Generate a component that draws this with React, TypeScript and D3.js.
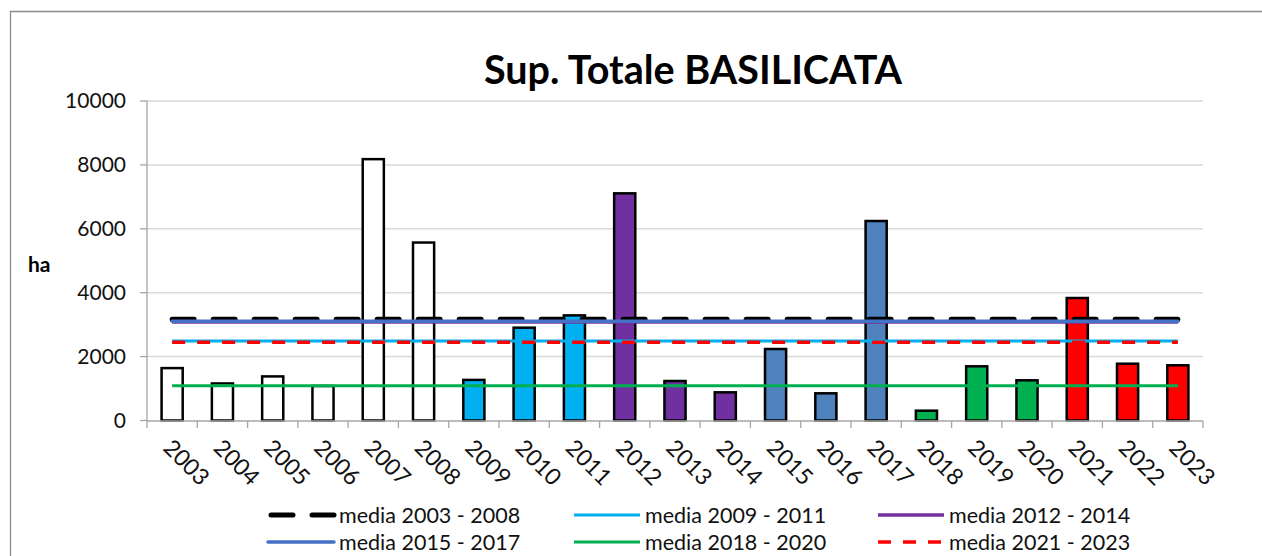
import React from "react";
import * as d3 from "d3";

// values (ha)
const years = [
  "2003", "2004", "2005", "2006", "2007", "2008", "2009", "2010", "2011", "2012", "2013",
  "2014", "2015", "2016", "2017", "2018", "2019", "2020", "2021", "2022", "2023",
];
const surface = [
  1640, 1160, 1380, 1080, 8180, 5570, 1270, 2905, 3290, 7110, 1236,
  882, 2238, 851, 6244, 307, 1696, 1258, 3834, 1778, 1728,
];
// which period each year belongs to (index into periods)
const yearPeriod = [0, 0, 0, 0, 0, 0, 1, 1, 1, 2, 2, 2, 3, 3, 3, 4, 4, 4, 5, 5, 5];
const periods = [
  "2003 - 2008", "2009 - 2011", "2012 - 2014", "2015 - 2017", "2018 - 2020", "2021 - 2023",
];
const periodMeans = [3170, 2490, 3080, 3110, 1090, 2450];
const yTicks = [0, 2000, 4000, 6000, 8000, 10000];

const barFill = ["#ffffff", "#00b0f0", "#7030a0", "#4f81bd", "#00b050", "#ff0000"];
const lineStyle = [
  { color: "#000000", width: 5, dash: "22 19", cap: "round" },
  { color: "#00b0f0", width: 3, dash: null, cap: "butt" },
  { color: "#7030a0", width: 3.5, dash: null, cap: "butt" },
  { color: "#4472c4", width: 3.5, dash: null, cap: "round" },
  { color: "#00b050", width: 3, dash: null, cap: "butt" },
  { color: "#ff0000", width: 3.5, dash: "13 12", cap: "butt" },
];

const W = 1262, H = 556;
const FONT = "Lato, 'Open Sans', sans-serif";

export default function App() {
  const x = d3.scaleBand<string>().domain(years).range([147, 1203])
    .paddingInner(0.58).paddingOuter(0.29);
  const y = d3.scaleLinear().domain([0, 10000]).range([420.5, 101]);
  const step = x.step();
  const cx = (yr: string) => (x(yr) as number) + x.bandwidth() / 2;
  const bounds = d3.range(years.length + 1).map(i => 147 + i * step);

  const meanLine = (v: number) =>
    d3.line<string>().x(d => cx(d)).y(() => y(v))(years) as string;

  const legendCols = [268, 574, 878];
  const legendRows = [515, 542];

  return (
    <div>
      <style>{"body{margin:0}"}</style>
      <svg width={W} height={H} style={{ display: "block", fontFamily: FONT }}>
        <rect x={0} y={0} width={W} height={H} fill="#fff" />
        <path d={`M10.5,${H} V11.5 H${W}`} fill="none" stroke="#8c8c8c" strokeWidth={1.3} />

        <text x={693} y={84} textAnchor="middle" fontSize={39.5} fontWeight={700} fill="#000">
          Sup. Totale BASILICATA
        </text>

        {/* grid + y axis */}
        {yTicks.map(t => (
          <g key={t}>
            {t > 0 && <line x1={147} x2={1203} y1={y(t)} y2={y(t)} stroke="#d9d9d9" strokeWidth={1.5} />}
            <line x1={140} x2={147} y1={y(t)} y2={y(t)} stroke="#a6a6a6" strokeWidth={1.3} />
            <text x={126} y={y(t)} dy="0.35em" textAnchor="end" fontSize={21} fill="#111">{t}</text>
          </g>
        ))}
        <line x1={147} x2={147} y1={101} y2={420.5} stroke="#a6a6a6" strokeWidth={1.3} />
        <text x={28} y={265} dy="0.35em" fontSize={21} fontWeight={700} fill="#000">ha</text>

        {/* bars */}
        {years.map((yr, i) => (
          <rect key={yr} x={x(yr)} y={y(surface[i])} width={x.bandwidth()}
            height={y(0) - y(surface[i])} fill={barFill[yearPeriod[i]]}
            stroke="#000" strokeWidth={2.5} />
        ))}

        {/* x axis */}
        <line x1={147} x2={1203} y1={421} y2={421} stroke="#a6a6a6" strokeWidth={1.5} />
        {bounds.map((b, i) => (
          <line key={i} x1={b} x2={b} y1={421} y2={428} stroke="#a6a6a6" strokeWidth={1.3} />
        ))}
        {years.map(yr => (
          <text key={yr} transform={`translate(${cx(yr) + 2},437) rotate(45)`} dy="0.75em"
            fontSize={23} fill="#111">{yr}</text>
        ))}

        {/* period means */}
        {periodMeans.map((v, i) => (
          <path key={i} d={meanLine(v)} fill="none" stroke={lineStyle[i].color}
            strokeWidth={lineStyle[i].width} strokeDasharray={lineStyle[i].dash ?? undefined}
            strokeLinecap={lineStyle[i].cap as any} />
        ))}

        {/* legend */}
        {periods.map((p, i) => {
          const lx = legendCols[i % 3], ly = legendRows[Math.floor(i / 3)];
          const s = lineStyle[i];
          return (
            <g key={p}>
              <line x1={lx + (i === 0 ? 3 : 0)} x2={lx + 66} y1={ly} y2={ly} stroke={s.color}
                strokeWidth={s.width} strokeDasharray={s.dash ?? undefined}
                strokeLinecap={s.cap as any} />
              <text x={lx + 71} y={ly} dy="0.35em" fontSize={21.5} fill="#111">media {p}</text>
            </g>
          );
        })}
      </svg>
    </div>
  );
}
